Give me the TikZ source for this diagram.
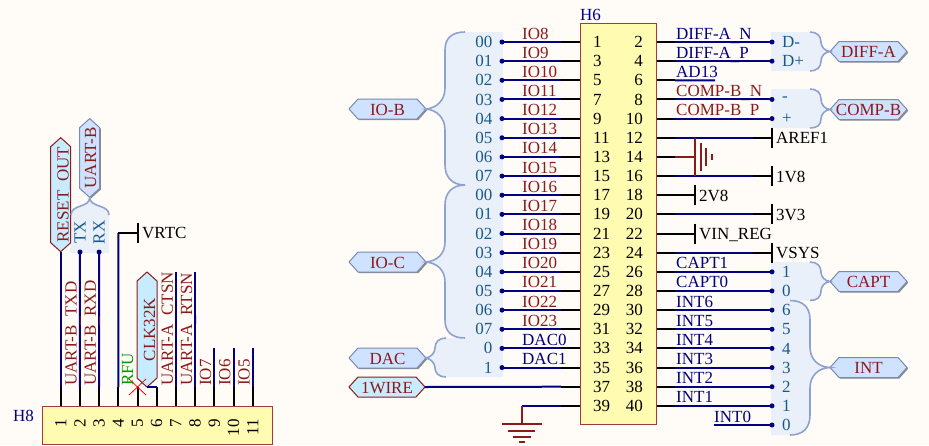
\documentclass[tikz,border=0pt]{standalone}
\usepackage{fontspec}
\setmainfont{Liberation Serif}
\usetikzlibrary{shapes.symbols, shadows, calc}
\definecolor{paper}{HTML}{FFFCF8}
\definecolor{wireblue}{HTML}{000080}
\definecolor{netred}{HTML}{8B1A1A}
\definecolor{busfill}{HTML}{E9F0FA}
\definecolor{busline}{HTML}{8EA2CF}
\definecolor{busname}{HTML}{1A5A8A}
\definecolor{chipfill}{HTML}{FFFBB0}
\definecolor{tagfill}{HTML}{CFE2FF}
\definecolor{netfill}{HTML}{C8ECFF}
\newcommand{\lowus}{\raisebox{-2pt}{\_}}

% one unit is one pixel of the sheet, y runs downwards
\begin{document}
\begin{tikzpicture}[x=1pt, y=-1pt, font=\fontsize{17}{19}\selectfont,
	chip/.style={draw=netred!85!white, line width=1pt, fill=chipfill, inner sep=0, anchor=north west},
	wire/.style={draw=wireblue, line width=2pt},
	stub/.style={draw=black, line width=2pt},
	gnd/.style={draw=netred, line width=1.8pt},
	brace/.style={draw=busline, line width=1.6pt},
	bus/.style={fill=busfill},
	dot/.style={circle, fill=wireblue, inner sep=0, minimum size=5pt},
	tag/.style={signal, signal to=west and east, signal pointer angle=96, minimum height=20pt, inner sep=0, outer sep=0, text height=12pt, text depth=0pt},
	bustag/.style={tag, draw=busline!85!black, line width=1pt, fill=tagfill, text=netred, drop shadow={shadow xshift=1.2pt, shadow yshift=-1.2pt, fill=black!45, opacity=1}},
	nettag/.style={tag, draw=netred, line width=1pt, fill=netfill, text=netred},
	lab/.style={anchor=base west, inner sep=0},
	redlab/.style={lab, text=netred},
	bluelab/.style={lab, text=wireblue},
	blacklab/.style={lab, text=black},
	member/.style={inner sep=0, text=busname},
	pinno/.style={inner sep=0, text=black}]
	\useasboundingbox[fill=paper] (0,0) rectangle (929,445);

	% areas behind the bus members
	\fill[bus] (465,32) .. controls (452,32) and (445,38) .. (445,50) -- (445,88) .. controls (445,100) and (437,108) .. (426,109)
		.. controls (437,110) and (445,118) .. (445,130) -- (445,165) .. controls (445,177) and (452,185) .. (465,185)
		.. controls (452,185) and (445,193) .. (445,205) -- (445,242) .. controls (445,254) and (437,261) .. (426,262)
		.. controls (437,263) and (445,270) .. (445,282) -- (445,320) .. controls (445,332) and (452,338) .. (465,338) -- (446,338)
		.. controls (439,338) and (435,342) .. (435,348) .. controls (435,353) and (431,357) .. (426,358)
		.. controls (431,359) and (435,363) .. (435,368) .. controls (435,373) and (439,377) .. (446,377) -- (503,377) -- (503,32) -- cycle;
	\fill[bus] (771,32) -- (810,32) .. controls (817,32) and (821,36) .. (821,42) .. controls (821,47) and (825,51) .. (830,51.5)
		.. controls (825,52) and (821,56) .. (821,61) .. controls (821,67) and (817,71) .. (810,71) -- (771,71) -- cycle;
	\fill[bus] (771,89) -- (810,89) .. controls (817,89) and (821,93) .. (821,99) .. controls (821,105) and (825,109) .. (830,109.5)
		.. controls (825,110) and (821,114) .. (821,119) .. controls (821,125) and (817,128) .. (810,128) -- (771,128) -- cycle;
	\fill[bus] (771,262) -- (810,262) .. controls (817,262) and (821,266) .. (821,272) .. controls (821,277) and (825,281) .. (830,281.5)
		.. controls (825,282) and (821,286) .. (821,291) .. controls (821,297) and (817,300.5) .. (810,300.5) -- (790,300.5)
		.. controls (803,300.5) and (810,307) .. (810,320) -- (810,347) .. controls (810,359) and (818,367) .. (830,367.5)
		.. controls (818,368) and (810,376) .. (810,388) -- (810,415) .. controls (810,428) and (803,435) .. (790,435) -- (771,435) -- cycle;
	\fill[bus] (70,253) -- (70,215) .. controls (70,205) and (90,208) .. (90,197) .. controls (90,208) and (109,205) .. (109,215) -- (109,253) -- cycle;

	% connector H6
	\node[chip, minimum width=76pt, minimum height=401pt] (H6) at (580,23) {};
	\node[bluelab] (H6name) at (580,20) {H6};
	\foreach \n/\net/\member/\kind [count=\k from 0] in {
		1/IO8/00/red, 3/IO9/01/red, 5/IO10/02/red, 7/IO11/03/red, 9/IO12/04/red, 11/IO13/05/red, 13/IO14/06/red, 15/IO15/07/red,
		17/IO16/00/red, 19/IO17/01/red, 21/IO18/02/red, 23/IO19/03/red, 25/IO20/04/red, 27/IO21/05/red, 29/IO22/06/red, 31/IO23/07/red,
		33/DAC0/0/blue, 35/DAC1/1/blue}{
		\pgfmathsetmacro\py{42+19.15*\k}
		\node[pinno, anchor=west] (pin\n) at (593,\py) {\n};
		\node[\kind lab] (net\n) at (522,\py-3) {\net};
		\node[member, anchor=east] (mem\n) at (492.5,\py) {\member};
		\coordinate (s\n) at (561,\py);
		\node[dot] (d\n) at (502,\py) {};
		\draw[stub] (H6.west |- s\n) -- (s\n);
		\draw[wire] (s\n) -- (d\n.center);
	}
	\foreach \n/\py in {37/386.7, 39/405.85}{
		\node[pinno, anchor=west] (pin\n) at (593,\py) {\n};
		\coordinate (s\n) at (561,\py);
		\draw[stub] (H6.west |- s\n) -- (s\n);
	}
	\foreach \n/\net/\member/\kind [count=\k from 0] in {
		2/DIFF-A\lowus N/D-/blue, 4/DIFF-A\lowus P/D+/blue, 8/COMP-B\lowus N/-/red, 10/COMP-B\lowus P/+/red,
		26/CAPT1/1/blue, 28/CAPT0/0/blue, 30/INT6/6/blue, 32/INT5/5/blue, 34/INT4/4/blue, 36/INT3/3/blue, 38/INT2/2/blue, 40/INT1/1/blue}{
		\pgfmathsetmacro\py{42+19.15*(\n/2-1)}
		\node[pinno, anchor=east] (pin\n) at (643,\py) {\n};
		\node[\kind lab] (net\n) at (676,\py-3) {\net};
		\node[member, anchor=west] (mem\n) at (782,\py) {\member};
		\coordinate (s\n) at (675,\py);
		\node[dot] (d\n) at (772,\py) {};
		\draw[stub] (H6.east |- s\n) -- (s\n);
		\draw[wire] (s\n) -- (d\n.center);
	}
	\foreach \n in {6,12,14,16,18,20,22,24}{
		\pgfmathsetmacro\py{42+19.15*(\n/2-1)}
		\node[pinno, anchor=east] (pin\n) at (643,\py) {\n};
		\coordinate (s\n) at (675,\py);
		\draw[stub] (H6.east |- s\n) -- (s\n);
	}
	\node[bluelab] (net6) at (676,77) {AD13};
	\draw[wire] (s6) -- (715,80.3);
	\node[bluelab] (int0) at (714,422) {INT0};
	\node[dot] (d42) at (772,425) {};
	\node[member, anchor=west] (mem42) at (782,425) {0};
	\draw[wire] (714,425) -- (d42.center);

	% rails on the right side
	\foreach \n/\rail in {12/AREF1, 16/1V8, 20/3V3, 24/VSYS}{
		\coordinate (t\n) at (753,0 |- s\n);
		\coordinate (r\n) at (772,0 |- s\n);
		\draw[wire] (s\n) -- (t\n);
		\draw[stub] (t\n) -- (r\n);
		\draw[stub] ($(r\n)+(0,-10)$) -- ($(r\n)+(0,10)$);
		\node[blacklab] (rail\n) at ($(r\n)+(4,6)$) {\rail};
	}
	\foreach \n/\rail in {18/2V8, 22/VIN\_REG}{
		\coordinate (r\n) at (695,0 |- s\n);
		\draw[stub] (s\n) -- (r\n);
		\draw[stub] ($(r\n)+(0,-10)$) -- ($(r\n)+(0,10)$);
		\node[blacklab] (rail\n) at ($(r\n)+(4,6)$) {\rail};
	}

	% ground on pin 14 and on pin 39
	\coordinate (g14) at (695,0 |- s14);
	\draw[gnd] (s14) -- (g14);
	\draw[gnd] (695,137.5) -- (695,176);
	\draw[gnd] (701,143) -- (701,171);
	\draw[gnd] (706,148) -- (706,166);
	\draw[gnd] (712,154) -- (712,160);
	\coordinate (c39) at (522,0 |- s39);
	\draw[wire] (s39) -- (c39);
	\draw[gnd] (c39) -- (522,424);
	\draw[gnd] (502,424) -- (542,424);
	\draw[gnd] (508,431) -- (535,431);
	\draw[gnd] (513,437) -- (531,437);
	\draw[gnd] (519,442) -- (525,442);

	% tags and their braces
	\node[bustag, minimum width=77pt] (IOB) at (387.5,109) {IO-B};
	\node[bustag, minimum width=77pt] (IOC) at (387.5,262) {IO-C};
	\node[bustag, minimum width=77pt] (DAC) at (387.5,358) {DAC};
	\node[nettag, minimum width=76pt] (WIRE) at (387,387) {1WIRE};
	\node[bustag, minimum width=77pt] (DIFFA) at (868.5,51.5) {DIFF-A};
	\node[bustag, minimum width=77pt] (COMPB) at (868.5,109.5) {\makebox[50pt]{COMP-B}};
	\node[bustag, minimum width=77pt] (CAPT) at (868.5,281.5) {CAPT};
	\node[bustag, minimum width=77pt] (INT) at (868.5,367.5) {INT};
	\draw[wire] (WIRE.east) -- (s37);
	\draw[brace] (465,32) .. controls (452,32) and (445,38) .. (445,50) -- (445,88) .. controls (445,100) and (437,108) .. (IOB.east)
		.. controls (437,110) and (445,118) .. (445,130) -- (445,165) .. controls (445,177) and (452,185) .. (465,185);
	\draw[brace] (465,185) .. controls (452,185) and (445,193) .. (445,205) -- (445,242) .. controls (445,254) and (437,261) .. (IOC.east)
		.. controls (437,263) and (445,270) .. (445,282) -- (445,320) .. controls (445,332) and (452,338) .. (465,338);
	\draw[brace] (446,338) .. controls (439,338) and (435,342) .. (435,348) .. controls (435,353) and (431,357) .. (DAC.east)
		.. controls (431,359) and (435,363) .. (435,368) .. controls (435,373) and (439,377) .. (446,377);
	\draw[brace] (810,32) .. controls (817,32) and (821,36) .. (821,42) .. controls (821,47) and (825,51) .. (DIFFA.west)
		.. controls (825,52) and (821,56) .. (821,61) .. controls (821,67) and (817,71) .. (810,71);
	\draw[brace] (810,89) .. controls (817,89) and (821,93) .. (821,99) .. controls (821,105) and (825,109) .. (COMPB.west)
		.. controls (825,110) and (821,114) .. (821,119) .. controls (821,125) and (817,128) .. (810,128);
	\draw[brace] (810,262) .. controls (817,262) and (821,266) .. (821,272) .. controls (821,277) and (825,281) .. (CAPT.west)
		.. controls (825,282) and (821,286) .. (821,291) .. controls (821,297) and (817,300.5) .. (810,300.5);
	\draw[brace] (790,300.5) .. controls (803,300.5) and (810,307) .. (810,320) -- (810,347) .. controls (810,359) and (818,367) .. (INT.west)
		.. controls (818,368) and (810,376) .. (810,388) -- (810,415) .. controls (810,428) and (803,435) .. (790,435);

	% connector H8
	\node[chip, minimum width=230pt, minimum height=38.5pt] (H8) at (42,405.7) {};
	\node[bluelab] (H8name) at (13,421) {H8};
	\foreach \n [count=\k from 0] in {1,...,11}{
		\pgfmathsetmacro\px{60.7+19.2*\k}
		\node[pinno, rotate=90, anchor=east] (b\n) at (\px,419) {\n};
		\coordinate (u\n) at (\px,387);
		\draw[stub] (H8.north -| u\n) -- (u\n);
	}
	\node[nettag, rotate=90, minimum width=114pt, text height=16pt] (RESET) at (60.7,194.7) {RESET\_OUT};
	\node[bustag, rotate=90, minimum width=78pt, text height=13pt] (UARTB) at (89.7,158) {UART-B};
	\node[nettag, rotate=90, minimum width=115pt, text height=16pt] (CLK) at (147,329.5) {CLK32K};
	\draw[wire] (u1) -- (RESET.west);
	\node[dot] (d2) at (80,252) {};
	\node[dot] (d3) at (99.1,252) {};
	\draw[wire] (u2) -- (d2.center);
	\draw[wire] (u3) -- (d3.center);
	\draw[brace] (UARTB.west) .. controls (90,208) and (71,204) .. (71,215);
	\draw[brace] (UARTB.west) .. controls (90,208) and (109,204) .. (109,215);
	\node[member, rotate=90] (TX) at (80,232.5) {TX};
	\node[member, rotate=90] (RX) at (99.1,232.5) {RX};
	\coordinate (v4) at (118.3,233);
	\node[blacklab] (VRTC) at (142,238) {VRTC};
	\coordinate (r4) at (138,233);
	\draw[wire] (u4) -- (v4);
	\draw[stub] (v4) -- (r4);
	\draw[stub] ($(r4)+(0,-10)$) -- ($(r4)+(0,10)$);
	\draw[wire] (CLK.west) -- (u6);
	\draw[red, line width=.8pt] (129,379) -- (146,395) (146,379) -- (129,395);
	\node[lab, rotate=90, text=green!60!black] (RFU) at (133,386) {RFU};
	\foreach \n/\net/\bx/\top in {1/UART-B\lowus TXD/76.7/0, 2/UART-B\lowus RXD/95.8/0, 7/UART-A\lowus CTSN/172.8/272, 8/UART-A\lowus RTSN/192/272, 9/IO7/211.2/348, 10/IO6/230.4/348, 11/IO5/249.6/348}{
		\node[redlab, rotate=90] (up\n) at (\bx,386) {\net};
		\ifnum\top>0 \draw[wire] (u\n) -- (u\n |- 0,\top); \fi
	}
\end{tikzpicture}
\end{document}
